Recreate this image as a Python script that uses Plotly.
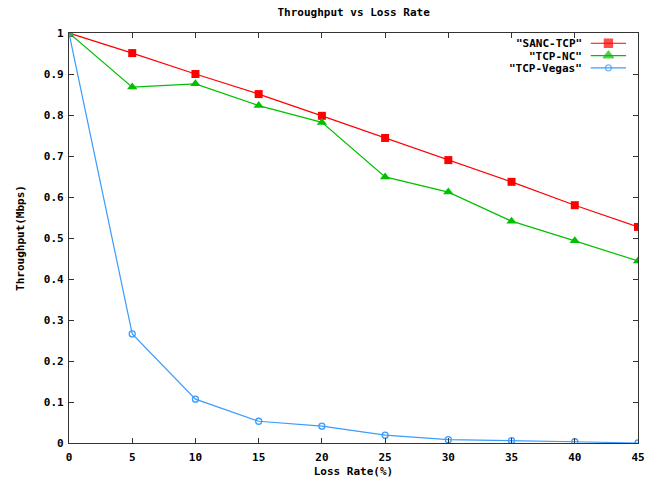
import plotly.graph_objects as go

# Loss rate (%) on the x axis
loss_rate = [0, 5, 10, 15, 20, 25, 30, 35, 40, 45]

# Throughput (Mbps) per protocol
sanc_tcp = [1.0, 0.951, 0.900, 0.851, 0.798, 0.744, 0.690, 0.637, 0.580, 0.527]
tcp_nc = [1.0, 0.868, 0.876, 0.823, 0.782, 0.649, 0.612, 0.541, 0.493, 0.444]
tcp_vegas = [1.0, 0.266, 0.107, 0.053, 0.041, 0.019, 0.008, 0.006, 0.003, 0.0]

series_names = ['"SANC-TCP"', '"TCP-NC"', '"TCP-Vegas"']
x_ticks = [0, 5, 10, 15, 20, 25, 30, 35, 40, 45]
y_ticks = [0, 0.1, 0.2, 0.3, 0.4, 0.5, 0.6, 0.7, 0.8, 0.9, 1.0]
y_tick_text = ["0", "0.1", "0.2", "0.3", "0.4", "0.5", "0.6", "0.7", "0.8", "0.9", "1"]

RED = "#ff0000"
GREEN = "#00c000"
BLUE = "#3a9cff"
FONT = "DejaVu Sans Mono"
AXIS = "#333333"

fig = go.Figure()

styles = [
    (sanc_tcp, RED, dict(symbol="square", size=8)),
    (tcp_nc, GREEN, dict(symbol="triangle-up", size=9)),
    (tcp_vegas, BLUE, dict(symbol="circle-open", size=6, line=dict(width=1.3))),
]
for (ys, color, marker), name in zip(styles, series_names):
    fig.add_trace(go.Scatter(
        x=loss_rate, y=ys, mode="lines+markers", name=name,
        line=dict(color=color, width=1.2),
        marker=dict(color=color, **marker),
        showlegend=False,
    ))

# Key in the top-right corner: right-aligned labels followed by line samples
legend_rows = [0.975, 0.945, 0.915]
for name, color, yk in zip(series_names, [RED, GREEN, BLUE], legend_rows):
    fig.add_annotation(
        x=0.905, y=yk, xref="paper", yref="paper", text=name, showarrow=False,
        xanchor="right", yanchor="middle", height=12,
        font=dict(family=FONT, size=11, color="#000000", weight="bold"),
    )
    fig.add_shape(type="line", xref="paper", yref="paper",
                  x0=0.917, x1=0.979, y0=yk, y1=yk,
                  line=dict(color=color, width=1.2))

# Legend sample markers on an overlay axis spanning the plot area
fig.add_trace(go.Scatter(
    x=[0.948] * 3, y=legend_rows, xaxis="x2", yaxis="y2", mode="markers",
    marker=dict(color=[RED, GREEN, BLUE], symbol=["square", "triangle-up", "circle-open"],
                size=[8, 9, 6], line=dict(width=1.3, color=[RED, GREEN, BLUE])),
    showlegend=False, hoverinfo="skip",
))

axis_common = dict(
    showline=True, linecolor=AXIS, linewidth=1.2, mirror="ticks",
    ticks="inside", ticklen=5, tickcolor=AXIS, tickwidth=1,
    showgrid=False, zeroline=False, automargin=False,
    tickfont=dict(family=FONT, size=11, color="#000000", weight="bold"),
)

fig.update_layout(
    width=661, height=485,
    margin=dict(l=69, r=23, t=33, b=42),
    paper_bgcolor="white", plot_bgcolor="white",
    title=dict(text="Throughput vs Loss Rate", x=0.535, xanchor="center", y=0.975, yanchor="middle",
               font=dict(family=FONT, size=11, color="#000000", weight="bold")),
    xaxis=dict(range=[0, 45], tickvals=x_ticks, ticklabelstandoff=4,
               title=dict(text="Loss Rate(%)", standoff=4,
                          font=dict(family=FONT, size=11, color="#000000", weight="bold")),
               **axis_common),
    yaxis=dict(range=[0, 1], tickvals=y_ticks, ticktext=y_tick_text, ticklabelstandoff=2,
               title=dict(text="Throughput(Mbps)", standoff=16,
                          font=dict(family=FONT, size=11, color="#000000", weight="bold")),
               **axis_common),
    xaxis2=dict(overlaying="x", range=[0, 1], visible=False, fixedrange=True),
    yaxis2=dict(overlaying="y", range=[0, 1], visible=False, fixedrange=True),
)

fig.write_html("out.html")
